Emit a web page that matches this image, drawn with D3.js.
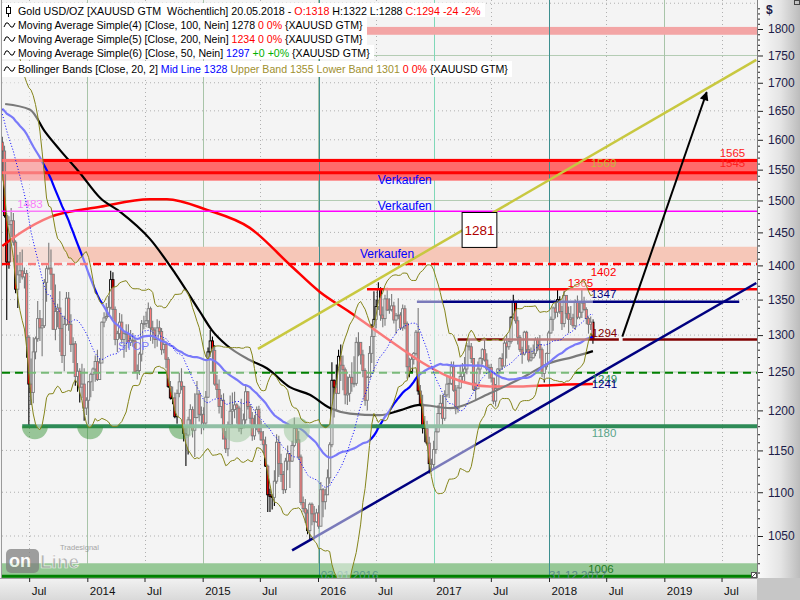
<!DOCTYPE html>
<html><head><meta charset="utf-8"><title>Gold USD/OZ</title>
<script src="https://cdn.jsdelivr.net/npm/d3@7/dist/d3.min.js"></script>
<style>
html,body{margin:0;padding:0;background:#f4f4f4;overflow:hidden}
svg{display:block;font-family:"Liberation Sans",Arial,sans-serif}
</style></head><body>
<svg id="chart" width="800" height="600"></svg>
<script>
// ---------------- DATA ----------------
// weekly closes before the visible window (needed for MA50 / Bollinger)
const preCloses = [1642,1663,1644,1580,1592,1572,1622,1591,1626,1572,1604,1579,1593,1584,1619,1606,1620,1616,1671,1691,
  1740,1770,1773,1772,1781,1758,1724,1711,1677,1730,1714,1751,1712,1705,1696,1657,1656,1656,1662,1687,
  1658,1667,1667,1609,1572,1576,1577,1592,1608,1596];
const firstWeek = "2013-04-07";
// weekly [high, low, close]
const w2013 = [[1605,1540,1581],[1590,1473,1476],[1480,1321,1405],[1475,1395,1462],[1488,1443,1468],[1480,1430,1435],[1438,1359,1365],[1416,1338,1386],[1420,1374,1392],[1424,1379,1383],
[1397,1366,1388],[1393,1269,1297],[1300,1180,1234],[1268,1207,1223],[1297,1209,1277],[1298,1267,1295],[1348,1291,1323],[1335,1292,1310],[1324,1271,1313],[1380,1310,1375],
[1400,1347,1395],[1434,1394,1396],[1424,1364,1387],[1387,1308,1308],[1372,1293,1333],[1344,1311,1338],[1362,1277,1309],[1327,1262,1272],[1327,1251,1315],[1361,1313,1352],
[1361,1306,1315],[1329,1277,1287],[1297,1262,1288],[1292,1232,1244],[1262,1224,1251],[1255,1210,1230],[1261,1216,1234],[1255,1187,1203],[1217,1194,1213]];
const w2014 = [[1238,1182,1237],[1249,1217,1247],[1256,1225,1254],[1272,1237,1264],[1280,1238,1240],[1268,1240,1262],[1319,1262,1318],[1332,1311,1324],[1345,1320,1326],[1355,1330,1339],
[1392,1336,1379],[1390,1322,1336],[1340,1286,1294],[1306,1277,1302],[1331,1295,1318],[1329,1288,1294],[1305,1269,1302],[1315,1277,1302],[1315,1282,1290],[1307,1285,1293],
[1303,1284,1292],[1296,1250,1250],[1260,1240,1252],[1277,1246,1274],[1321,1264,1316],[1327,1308,1316],[1333,1311,1320],[1346,1310,1337],[1340,1292,1310],[1320,1288,1307],
[1311,1282,1294],[1322,1284,1310],[1320,1301,1305],[1310,1273,1280],[1295,1275,1287],[1291,1255,1267],[1270,1229,1231],[1238,1214,1216],[1231,1208,1216],[1223,1190,1192],
[1227,1183,1222],[1249,1217,1237],[1255,1226,1231],[1232,1161,1171],[1178,1131,1169],[1192,1145,1188],[1208,1180,1201],[1205,1166,1175],[1222,1142,1191],[1238,1190,1221],
[1225,1186,1195],[1205,1170,1195]];
const w2015 = [[1204,1175,1184],[1225,1180,1217],[1283,1216,1277],[1307,1270,1292],[1298,1250,1279],[1286,1232,1234],[1246,1216,1227],[1240,1196,1205],[1220,1190,1213],[1222,1164,1164],
[1174,1147,1152],[1186,1143,1182],[1219,1180,1199],[1223,1178,1201],[1224,1190,1207],[1209,1183,1203],[1206,1173,1178],[1215,1170,1178],[1196,1178,1188],[1232,1183,1224],
[1225,1201,1205],[1208,1183,1190],[1198,1162,1168],[1194,1163,1181],[1205,1175,1201],[1206,1170,1173],[1187,1162,1163],[1174,1147,1157],[1167,1130,1131],[1133,1077,1097],
[1104,1077,1095],[1098,1080,1094],[1126,1084,1113],[1170,1110,1160],[1168,1118,1134],[1146,1112,1121],[1125,1098,1103],[1141,1099,1137],[1156,1126,1146],[1146,1105,1137],
[1162,1136,1156],[1191,1154,1177],[1178,1159,1163],[1174,1139,1142],[1145,1085,1088],[1095,1077,1081],[1092,1065,1076],[1080,1052,1056],[1088,1046,1086],[1088,1062,1075],
[1084,1046,1066],[1081,1065,1076]];
const w2016 = [[1085,1058,1061],[1112,1062,1103],[1105,1071,1089],[1104,1080,1097],[1127,1097,1117],[1160,1110,1157],[1263,1154,1239],[1240,1191,1230],[1260,1200,1222],[1280,1221,1271],
[1287,1238,1259],[1272,1226,1253],[1256,1208,1220],[1244,1207,1222],[1247,1211,1243],[1263,1224,1235],[1271,1230,1235],[1297,1232,1290],[1304,1271,1290],[1283,1260,1273],
[1280,1243,1252],[1255,1206,1213],[1245,1200,1243],[1285,1242,1275],[1315,1262,1298],[1362,1250,1322],[1350,1310,1340],[1375,1335,1366],[1368,1320,1328],[1340,1311,1323],
[1357,1313,1351],[1367,1334,1335],[1352,1330,1336],[1358,1333,1341],[1347,1316,1321],[1331,1302,1327],[1352,1322,1328],[1332,1307,1310],[1343,1306,1337],[1342,1308,1316],
[1319,1241,1257],[1269,1243,1251],[1274,1250,1267],[1277,1260,1275],[1307,1272,1304],[1338,1220,1225],[1233,1205,1208],[1220,1171,1178],[1193,1160,1177],[1187,1156,1159],
[1167,1122,1134],[1140,1124,1133],[1162,1127,1151]];
const w2017 = [[1181,1146,1173],[1207,1172,1196],[1220,1195,1209],[1220,1180,1190],[1226,1187,1220],[1245,1217,1234],[1244,1216,1235],[1264,1233,1257],[1264,1224,1226],[1233,1195,1202],
[1233,1197,1229],[1259,1228,1244],[1262,1237,1249],[1270,1238,1254],[1289,1247,1285],[1295,1279,1284],[1289,1262,1268],[1268,1225,1227],[1236,1214,1228],[1264,1228,1254],
[1270,1247,1268],[1282,1260,1280],[1296,1264,1266],[1275,1251,1254],[1260,1241,1256],[1261,1236,1242],[1242,1208,1212],[1234,1205,1228],[1255,1226,1254],[1270,1249,1268],
[1275,1253,1258],[1294,1259,1289],[1301,1268,1284],[1296,1280,1291],[1326,1288,1325],[1357,1322,1346],[1346,1316,1320],[1326,1287,1297],[1300,1277,1280],[1284,1261,1274],
[1306,1272,1304],[1306,1277,1280],[1286,1263,1266],[1283,1264,1269],[1287,1268,1275],[1297,1271,1294],[1297,1278,1287],[1300,1268,1280],[1283,1243,1248],[1260,1236,1257],
[1276,1253,1275],[1306,1275,1303]];
const w2018 = [[1326,1302,1322],[1340,1306,1338],[1345,1323,1332],[1366,1325,1350],[1355,1330,1333],[1341,1307,1316],[1362,1311,1356],[1356,1323,1330],[1340,1303,1322],[1341,1314,1324],
[1330,1309,1313],[1350,1307,1347],[1356,1322,1325],[1347,1322,1332],[1365,1324,1345],[1354,1334,1336],[1339,1315,1323],[1326,1302,1315],[1326,1307,1318],[1322,1288,1294]];

// moving averages (their history starts before the window)
const ma100Pts = [["2013-04-16",1662],["2013-07-04",1652],["2013-08-20",1614],["2013-10-06",1583],["2013-12-08",1545],["2014-02-11",1504],
  ["2014-04-15",1482],["2014-07-18",1440],["2014-10-05",1389],["2014-12-23",1333],["2015-01-30",1307],["2015-03-18",1286],["2015-05-30",1266],
  ["2015-07-23",1255],["2015-10-04",1230],["2015-12-06",1220],["2016-02-08",1203],["2016-04-11",1196],["2016-07-15",1194],["2016-09-16",1200],
  ["2016-11-19",1207],["2017-02-22",1203],["2017-06-28",1222],["2017-10-11",1243],["2018-01-04",1262],["2018-03-17",1270],["2018-05-20",1278]];
const ma200Pts = [["2013-04-07",1429],["2013-06-03",1449],["2013-09-06",1474],["2014-02-11",1490],["2014-07-18",1502],["2014-09-10",1502],
  ["2015-01-15",1485],["2015-05-30",1457],["2015-10-04",1401],["2016-01-07",1361],["2016-04-11",1332],["2016-06-23",1309],["2016-09-16",1283],
  ["2016-11-28",1262],["2017-02-22",1243],["2017-06-28",1231],["2017-10-11",1231],["2018-01-26",1233],["2018-05-20",1234]];

// zones [low, high]
const zones = [[1789,1804],[1532,1568],[1405,1428],[990,1020]];
// horizontal levels: value, from, to (null = whole width)
const levels = [[1565,null,null],[1545,null,null],[1483,null,null],[1402,null,null],[1365,"2016-06-04",null],
  [1347,"2016-11-09","2019-08-26"],[1294,"2017-03-18","2018-08-10"],[1294,"2018-08-22",null],[1249,null,null],[1180,"2013-06-09",null],[1006,null,null]];
// trend lines [date, price] -> [date, price]
const trendNavy = [["2015-10-11",1034],["2019-10-19",1374]];
const trendYellow = [["2015-06-25",1281],["2019-10-19",1742]];
const arrowPts = [["2018-08-21",1298],["2019-05-15",1683]];
const box1281 = [["2017-04-01",1481],["2017-07-20",1427]];
const boxText = "1281";
// support touches on 1180
const touches = ["2013-07-19","2014-01-10","2014-10-27","2015-04-20","2015-10-26"];
const markerDates = ["2016-01-03","2017-12-31"];
// chart annotations
const annTexts = ["1565","1545","1569","Verkaufen","Verkaufen","Verkaufen","1483","1402","1365","1347","1294","1249","1241","1180","1006","03.01.2016","31.12.2017","STOP"];
const annPos = [["2019-06-25",1571],["2019-06-25",1554],["2018-05-13",1554],["2016-07-08",1526],["2016-07-08",1485],["2016-05-13",1411],
  ["2013-05-24",1488],["2018-05-13",1385],["2018-03-01",1368],["2018-05-13",1352],["2018-05-16",1297],["2018-05-16",1236],["2018-05-16",1229],
  ["2018-05-16",1166],["2018-05-05",1009],["2016-01-10",1003.6],["2018-01-01",1003.6],["2014-04-08",1279]];
// axes
const yTicks = [1050,1100,1150,1200,1250,1300,1350,1400,1450,1500,1550,1600,1650,1700,1750,1800];
const xTickDates = ["2013-07-01","2014-01-01","2014-07-01","2015-01-01","2015-07-01","2016-01-01","2016-07-01","2017-01-01","2017-07-01","2018-01-01","2018-07-01","2019-01-01","2019-07-01"];
const xTickLabels = ["Jul","2014","Jul","2015","Jul","2016","Jul","2017","Jul","2018","Jul","2019","Jul"];
// legend
const legendTexts = [
  ["Gold USD/OZ [XAUUSD GTM  Wöchentlich] 20.05.2018 - ","O:1318"," H:1322 L:1288 ","C:1294 -24 -2%"],
  ["Moving Average Simple(4) [Close, 100, Nein] 1278 ","0 0%"," {XAUUSD GTM}"],
  ["Moving Average Simple(5) [Close, 200, Nein] ","1234 0 0%"," {XAUUSD GTM}"],
  ["Moving Average Simple(6) [Close, 50, Nein] ","1297"," +0 +0%"," {XAUUSD GTM}"],
  ["Bollinger Bands [Close, 20, 2] ","Mid Line 1328"," Upper Band 1355 Lower Band 1301"," 0 0%"," {XAUUSD GTM}"]];

// ---------------- STYLES ----------------
const legendColors = [["#000","#ff0000","#000","#ff0000"],["#000","#ff0000","#000"],["#000","#ff0000","#000"],["#000","#0000ff","#00b000","#000"],["#000","#0000ff","#a09030","#ff0000","#000"]];
const legendWidths = [463, 345, 345, 352, 490];
const zoneFills = ["#f3a5a5","#ff6a6a","#f6c7b8","#96c896"];
const levelStyles = [["#ff0000",3,null],["#ff0000",3,null],["#ff00ff",1.5,null],["#ff0000",2.5,"8,5"],["#ff0000",2.5,null],
  ["#000080",2.5,null],["#800000",2.5,null],["#800000",2.5,null],["#008000",2,"8,5"],["#2e8b57",4,null],["#008000",3,null]];
const annColors = ["#ff2020","#ff2020","#c8b43c","#0000ff","#0000ff","#0000ff","#ff00ff","#ff0000","#ff0000","#000080","#800000","#2e8b57","#000080","#5aa48a","#1e7a1e","#5a9a8a","#5a8a8a","#0000ff"];

// ---------------- CHART ----------------
const parse = d3.utcParse("%Y-%m-%d");
const PL = 2, PR = 757, PT = 0, PB = 578;
const x = d3.scaleUtc().domain([parse("2016-01-01"), parse("2018-01-01")]).range([318, 549]);
const y = d3.scaleLog().domain([1800, 1050]).range([29, 536]);

const weekly = [].concat(w2013, w2014, w2015, w2016, w2017, w2018);
const start = parse(firstWeek);
const bars = weekly.map((d, i) => ({date: d3.utcDay.offset(start, 7 * i), h: d[0], l: d[1], c: d[2]}));
bars.forEach((b, i) => {
  b.o = i ? bars[i - 1].c : preCloses[preCloses.length - 1];
  b.h = Math.max(b.h, b.o, b.c); b.l = Math.min(b.l, b.o, b.c);
});
const allC = preCloses.concat(bars.map(b => b.c));
bars.forEach((b, i) => {
  const k = preCloses.length + i;
  b.ma50 = d3.mean(allC.slice(k - 49, k + 1));
  const w = allC.slice(k - 19, k + 1), m = d3.mean(w);
  const sd = Math.sqrt(d3.mean(w, v => (v - m) * (v - m)));
  b.mid = m; b.up = m + 2 * sd; b.lo = m - 2 * sd;
});

const svg = d3.select("#chart");
svg.append("rect").attr("width", 800).attr("height", 600).attr("fill", "#f4f4f4");
const defs = svg.append("defs");
defs.append("clipPath").attr("id", "clip").append("rect").attr("x", PL).attr("y", PT).attr("width", PR - PL).attr("height", PB - PT);
const gr = defs.append("linearGradient").attr("id", "gr").attr("x1", 0).attr("x2", 1).attr("y1", 0).attr("y2", 0);
gr.append("stop").attr("offset", "0%").attr("stop-color", "#fbfbfb");
gr.append("stop").attr("offset", "55%").attr("stop-color", "#e4e4e4");
gr.append("stop").attr("offset", "100%").attr("stop-color", "#bcbcbc");
const gb = defs.append("linearGradient").attr("id", "gb").attr("x1", 0).attr("x2", 0).attr("y1", 0).attr("y2", 1);
gb.append("stop").attr("offset", "0%").attr("stop-color", "#f2f2f2");
gb.append("stop").attr("offset", "100%").attr("stop-color", "#d9d9d9");
defs.append("marker").attr("id", "arr").attr("viewBox", "0 0 10 10").attr("refX", 9).attr("refY", 5)
  .attr("markerWidth", 11).attr("markerHeight", 9).attr("markerUnits", "userSpaceOnUse").attr("orient", "auto")
  .append("path").attr("d", "M0,0 L10,5 L0,10 z").attr("fill", "#000");

const plot = svg.append("g").attr("clip-path", "url(#clip)");

// grid
const gGrid = plot.append("g");
d3.range(1050, 1851, 50).filter(v => v % 250 !== 0).forEach(v => {
  gGrid.append("line").attr("x1", PL).attr("x2", PR).attr("y1", y(v)).attr("y2", y(v))
    .attr("stroke", "#b0b0b0").attr("stroke-dasharray", "1,3");
});
[1250, 1500, 1750].forEach(v => {
  gGrid.append("line").attr("x1", PL).attr("x2", PR).attr("y1", y(v)).attr("y2", y(v)).attr("stroke", "#b4ccb4");
});
xTickDates.forEach((ds, i) => {
  const xv = Math.round(x(parse(ds))) + 0.5;
  const isYear = xTickLabels[i] !== "Jul";
  const l = gGrid.append("line").attr("x1", xv).attr("x2", xv).attr("y1", PT).attr("y2", PB);
  if (isYear) l.attr("stroke", xTickLabels[i] === "2017" ? "#7fd8b8" : "#a8c4a8");
  else l.attr("stroke", "#b0b0b0").attr("stroke-dasharray", "1,3");
});

// zones
zones.forEach((z, i) => {
  plot.append("rect").attr("x", PL).attr("width", PR - PL).attr("y", y(z[1])).attr("height", y(z[0]) - y(z[1])).attr("fill", zoneFills[i]);
});
// date marker lines
markerDates.forEach(ds => {
  const xv = Math.round(x(parse(ds))) + 0.5;
  plot.append("line").attr("x1", xv).attr("x2", xv).attr("y1", PT).attr("y2", PB).attr("stroke", "#3d8f8f");
});

// candles
const gc = plot.append("g");
gc.selectAll("line").data(bars).join("line")
  .attr("x1", d => x(d.date)).attr("x2", d => x(d.date)).attr("y1", d => y(d.h)).attr("y2", d => y(d.l))
  .attr("stroke", "#000").attr("stroke-width", 1.1);
gc.selectAll("rect").data(bars).join("rect")
  .attr("x", d => x(d.date) - 1.1).attr("width", 2.2)
  .attr("y", d => y(Math.max(d.o, d.c))).attr("height", d => Math.max(0.8, Math.abs(y(d.o) - y(d.c))))
  .attr("fill", d => d.c < d.o ? "#ff0000" : "#f4f4f4").attr("stroke", "#000").attr("stroke-width", 0.9);

// moving averages
const lineS = d3.line().x(d => x(parse(d[0]))).y(d => y(d[1])).curve(d3.curveMonotoneX);
plot.append("path").attr("d", lineS(ma200Pts)).attr("fill", "none").attr("stroke", "#ff0000").attr("stroke-width", 2.5);
plot.append("path").attr("d", lineS(ma100Pts)).attr("fill", "none").attr("stroke", "#000").attr("stroke-width", 2.2);
plot.append("path").attr("d", d3.line().x(d => x(d.date)).y(d => y(d.ma50))(bars)).attr("fill", "none").attr("stroke", "#0000ff").attr("stroke-width", 2.2);

// levels
levels.forEach((lv, i) => {
  const st = levelStyles[i];
  const x1 = lv[1] ? x(parse(lv[1])) : PL, x2 = lv[2] ? x(parse(lv[2])) : PR;
  const l = plot.append("line").attr("x1", x1).attr("x2", x2).attr("y1", y(lv[0])).attr("y2", y(lv[0]))
    .attr("stroke", st[0]).attr("stroke-width", st[1]);
  if (st[2]) l.attr("stroke-dasharray", st[2]);
});
// trend lines
const lineP = d3.line().x(d => x(parse(d[0]))).y(d => y(d[1]));
plot.append("path").attr("d", lineP(trendYellow)).attr("stroke", "#c8c840").attr("stroke-width", 2.5).attr("fill", "none");
plot.append("path").attr("d", lineP(trendNavy)).attr("stroke", "#000080").attr("stroke-width", 2.5).attr("fill", "none");

// support touch circles
touches.forEach((ds, i) => {
  const cx = x(parse(ds)), cy = y(1180);
  const r = i === 3 ? 16 : 13;
  if (i === 4) plot.append("circle").attr("cx", cx).attr("cy", cy + 4).attr("r", 13).attr("fill", "rgb(40,140,40)").attr("fill-opacity", 0.45);
  else plot.append("path").attr("d", `M${cx - r},${cy} A${r},${r} 0 0 0 ${cx + r},${cy} Z`).attr("fill", "rgb(40,140,40)").attr("fill-opacity", 0.45);
});

// annotations
annTexts.forEach((t, i) => {
  plot.append("text").attr("x", x(parse(annPos[i][0]))).attr("y", y(annPos[i][1])).text(t)
    .attr("fill", annColors[i]).attr("font-size", t === "Verkaufen" ? 12 : 11.5);
});

// Bollinger overlay (lightens everything inside the bands)
plot.append("path").attr("d", d3.area().x(d => x(d.date)).y0(d => y(d.lo)).y1(d => y(d.up))(bars))
  .attr("fill", "#f4f4f4").attr("fill-opacity", 0.5);
const lineB = k => d3.line().x(d => x(d.date)).y(d => y(d[k]))(bars);
plot.append("path").attr("d", lineB("up")).attr("fill", "none").attr("stroke", "#85851a").attr("stroke-width", 1);
plot.append("path").attr("d", lineB("lo")).attr("fill", "none").attr("stroke", "#85851a").attr("stroke-width", 1);
plot.append("path").attr("d", lineB("mid")).attr("fill", "none").attr("stroke", "#0000ff").attr("stroke-width", 1).attr("stroke-dasharray", "1,2");

// arrow
plot.append("path").attr("d", lineP(arrowPts)).attr("stroke", "#000").attr("stroke-width", 2).attr("fill", "none").attr("marker-end", "url(#arr)");
// 1281 box
const bx1 = x(parse(box1281[0][0])), bx2 = x(parse(box1281[1][0])), by1 = y(box1281[0][1]), by2 = y(box1281[1][1]);
plot.append("rect").attr("x", bx1).attr("y", by1).attr("width", bx2 - bx1).attr("height", by2 - by1).attr("fill", "#fff").attr("stroke", "#000");
plot.append("text").attr("x", (bx1 + bx2) / 2).attr("y", (by1 + by2) / 2 + 5).attr("text-anchor", "middle").attr("font-size", 13.5).attr("fill", "#b00000").text(boxText);

// watermark
const wm = plot.append("g").attr("opacity", 0.75);
wm.append("rect").attr("x", 6).attr("y", 549).attr("width", 33).attr("height", 24).attr("rx", 5).attr("fill", "#808080");
wm.append("text").attr("x", 9).attr("y", 567).attr("font-size", 18).attr("font-weight", "bold").attr("fill", "#fff").text("on");
wm.append("text").attr("x", 40).attr("y", 568).attr("font-size", 19).attr("font-weight", "bold").attr("fill", "#a0a0a0").attr("stroke", "#fff").attr("stroke-width", 0.7).text("Line");
wm.append("text").attr("x", 60).attr("y", 550).attr("font-size", 7.5).attr("fill", "#8a8a8a").text("Tradesignal");

// frame lines
svg.append("line").attr("x1", 1.5).attr("x2", 1.5).attr("y1", 0).attr("y2", PB).attr("stroke", "#9a9a9a");

// right axis
svg.append("rect").attr("x", PR).attr("y", 0).attr("width", 800 - PR).attr("height", PB).attr("fill", "url(#gr)");
svg.append("rect").attr("x", 0).attr("y", PB).attr("width", PR).attr("height", 600 - PB).attr("fill", "url(#gb)");
svg.append("rect").attr("x", PR).attr("y", PB).attr("width", 800 - PR).attr("height", 600 - PB).attr("fill", "#c6c6c6");
svg.append("line").attr("x1", PR + 0.5).attr("x2", PR + 0.5).attr("y1", 0).attr("y2", PB).attr("stroke", "#808080");
svg.append("line").attr("x1", 0).attr("x2", PR).attr("y1", PB + 0.5).attr("y2", PB + 0.5).attr("stroke", "#a0a0a0");

const ya = svg.append("g").attr("transform", `translate(${PR + 1},0)`)
  .call(d3.axisRight(y).tickValues(yTicks).tickFormat(d3.format("d")).tickSize(5).tickPadding(5));
ya.select(".domain").remove();
ya.selectAll("text").attr("font-size", 12).attr("fill", "#1c1c48").attr("font-family", "Liberation Sans, Arial, sans-serif");
ya.selectAll("line").attr("stroke", "#222");
const minor = d3.range(1010, 1851, 10).filter(v => v % 50 !== 0);
const ym = svg.append("g").attr("transform", `translate(${PR + 1},0)`).call(d3.axisRight(y).tickValues(minor).tickSize(2).tickFormat(""));
ym.select(".domain").remove();
ym.selectAll("line").attr("stroke", "#222");
svg.append("text").attr("x", 766).attr("y", 14).attr("font-size", 12).attr("font-weight", "bold").attr("fill", "#1c1c48").text("$");

// bottom axis
const xa = svg.append("g").attr("transform", `translate(0,${PB})`)
  .call(d3.axisBottom(x).tickValues(xTickDates.map(parse)).tickFormat((d, i) => xTickLabels[i]).tickSize(4).tickPadding(5));
xa.select(".domain").remove();
xa.selectAll("text").attr("text-anchor", "start").attr("x", 2).attr("font-size", 11.5).attr("fill", "#111").attr("font-family", "Liberation Sans, Arial, sans-serif");
xa.selectAll("line").attr("stroke", "#222");

// small corner marks
svg.append("rect").attr("x", 751.5).attr("y", 572.5).attr("width", 5).attr("height", 5).attr("fill", "#fff").attr("stroke", "#555");
svg.append("line").attr("x1", 752).attr("y1", 577).attr("x2", 756).attr("y2", 573).attr("stroke", "#555");
svg.append("rect").attr("x", 794.5).attr("y", 0.5).attr("width", 5).attr("height", 4).attr("fill", "none").attr("stroke", "#444");

// legend
const baselines = [15, 29, 43, 57, 73];
legendTexts.forEach((row, r) => {
  const g = svg.append("g");
  const bg = g.append("rect").attr("x", 2).attr("y", baselines[r] - 12).attr("height", r === 4 ? 16 : 14).attr("fill", "#ffffff");
  const t = g.append("text").attr("x", 0).attr("y", 0).attr("font-size", 11.8).style("white-space", "pre");
  row.forEach((s, j) => t.append("tspan").attr("fill", legendColors[r][j]).text(s));
  const wNat = t.node().getComputedTextLength();
  t.attr("transform", `translate(18,${baselines[r]}) scale(${legendWidths[r] / wNat},1)`);
  bg.attr("width", legendWidths[r] + 20);
  const c = baselines[r] - 4;
  if (r === 0) {
    g.append("line").attr("x1", 8.5).attr("x2", 8.5).attr("y1", c - 6).attr("y2", c + 6).attr("stroke", "#000");
    g.append("rect").attr("x", 6.5).attr("y", c - 3.5).attr("width", 4).attr("height", 6).attr("fill", "#fff").attr("stroke", "#000");
  } else {
    g.append("path").attr("d", `M4,${c + 2} L6,${c - 2} L8,${c - 2} L11,${c + 2} L13,${c + 2} L15,${c - 2}`).attr("fill", "none").attr("stroke", "#000");
  }
});
</script>
</body></html>
